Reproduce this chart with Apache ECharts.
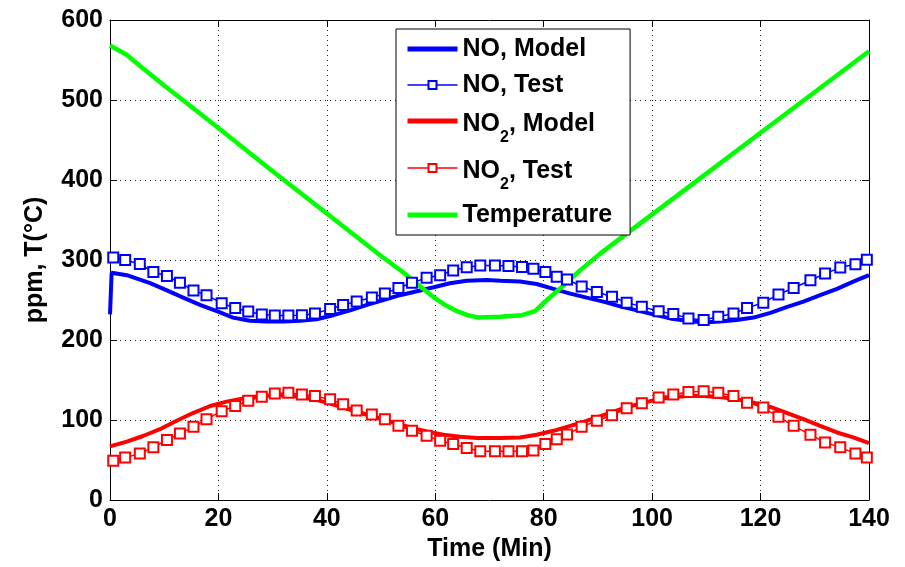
<!DOCTYPE html>
<html>
<head>
<meta charset="utf-8">
<script src="https://cdn.jsdelivr.net/npm/echarts@6/dist/echarts.min.js"></script>
<style>
html,body{margin:0;padding:0;background:#fff;}
#c{width:905px;height:567px;}
</style>
</head>
<body>
<div id="c"></div>
<script>
// ---- data ----
var seriesNames = ['NO, Model', 'NO, Test', 'NO2, Model', 'NO2, Test', 'Temperature'];
var xTicks = [0, 20, 40, 60, 80, 100, 120, 140];
var yTicks = [0, 100, 200, 300, 400, 500, 600];

var noModelTime = [0, 0.3, 3.1, 7.4, 10.5, 13.5, 16.6, 19.7, 22.7, 25.8, 28.9, 32.0, 35.1, 38.1, 41.2, 44.3, 47.4, 50.4, 53.5, 56.6, 59.7, 62.7, 65.8, 69.5, 72.0, 75.6, 78.7, 81.8, 84.9, 87.9, 91.0, 94.1, 97.2, 100.2, 103.3, 106.4, 109.5, 112.5, 115.6, 118.7, 121.8, 124.8, 127.9, 131.0, 134.1, 137.1, 140];
var noModel = [232, 284, 281, 271, 262, 253, 244, 236, 228, 224, 223, 223, 224, 226, 231, 237, 244, 250, 256, 261, 266, 271, 274, 275, 274, 273, 270, 264, 258, 253, 248, 242, 237, 232, 227, 224, 222, 223, 225, 228, 234, 241, 248, 256, 264, 273, 281];

var testTime = [0.6, 2.8, 5.5, 8.0, 10.5, 12.9, 15.4, 17.8, 20.6, 23.1, 25.5, 28.0, 30.4, 32.9, 35.4, 37.8, 40.6, 43.0, 45.5, 48.3, 50.7, 53.2, 55.7, 58.4, 60.9, 63.3, 65.8, 68.3, 71.0, 73.5, 76.0, 78.1, 80.3, 82.4, 84.3, 87.0, 89.8, 92.6, 95.3, 98.1, 101.2, 103.9, 106.7, 109.5, 112.2, 115.0, 117.5, 120.5, 123.3, 126.1, 129.2, 131.9, 134.7, 137.5, 139.6];
var noTest = [303, 300, 295, 285, 280, 271.5, 262, 256, 246, 240, 235.5, 232, 230.5, 230.5, 231, 233, 238.7, 243.7, 248, 253, 258, 265, 271.5, 277.7, 281, 287, 291, 293, 293, 292.6, 291.4, 289, 285, 279, 275.6, 267, 260, 254, 246.7, 241.7, 236, 232.5, 227, 225, 229, 233, 240, 246.7, 257, 265, 274.7, 283, 290.5, 294.6, 300.4];
var no2Test = [49, 53, 58, 66, 75, 83, 91.5, 101, 111, 117.5, 124, 129, 133, 134, 132, 130, 125.8, 119.6, 112, 107, 101, 92.7, 86.5, 80.3, 74, 70, 65, 61, 61, 61, 61, 62, 70, 76, 82, 91.5, 99, 106, 114.6, 120.8, 128, 132, 135, 136, 134, 130, 121.7, 115.5, 104, 92.7, 81.5, 72, 65.8, 58, 53];

var no2ModelTime = [0, 3.1, 6.1, 9.2, 12.3, 15.4, 18.5, 21.5, 24.6, 27.7, 30.8, 33.8, 36.9, 40.0, 43.0, 46.1, 49.2, 52.3, 55.4, 58.4, 61.5, 64.6, 67.7, 72.0, 75.6, 78.7, 81.8, 84.9, 87.9, 91.0, 94.1, 97.2, 100.2, 103.3, 106.4, 109.5, 112.5, 115.6, 118.7, 121.8, 124.8, 127.9, 131.0, 134.1, 137.1, 140];
var no2Model = [67, 73, 80, 88.5, 99, 109, 117.5, 123, 127, 130, 131, 130, 127, 121.7, 115.5, 109, 103, 96.8, 90.6, 85.7, 81.5, 79, 77.4, 77.4, 78.2, 81.5, 86.5, 92.7, 99, 106, 113.3, 119.6, 124.5, 128, 130, 130, 128.7, 125.8, 121.7, 116.3, 109, 101, 92.7, 84.4, 78.2, 71];

var tempTime = [0, 3, 6, 10, 20, 30, 40, 50, 54, 57, 60, 62, 64, 66, 68, 72, 76, 78.4, 80.6, 84.3, 86.7, 90.4, 100, 110, 120, 130, 140];
var temp = [568, 557, 540, 518, 465, 411, 358, 305, 285, 268, 252, 243, 236, 231, 228, 229, 231, 236, 250, 272, 287, 308, 357, 408, 459, 510, 561];

// ---- build ----
function pairs(xs, ys) { return xs.map(function (x, i) { return [x, ys[i]]; }); }
var FONT = 'Liberation Sans';
var BLUE = '#0000ff', RED = '#ff0000', GREEN = '#00ff00';

var chart = echarts.init(document.getElementById('c'), null, { renderer: 'canvas' });

var legendLabels = {
  'NO, Model': 'NO, Model',
  'NO, Test': 'NO, Test',
  'NO2, Model': '{n|NO}{s|2}{n|, Model}',
  'NO2, Test': '{n|NO}{s|2}{n|, Test}',
  'Temperature': 'Temperature'
};
var isModelLine = { 'NO, Model': true, 'NO2, Model': true, 'Temperature': true };

var axisCommon = {
  type: 'value',
  axisLine: { show: true, onZero: false, lineStyle: { color: '#000', width: 1 } },
  axisTick: { show: true, inside: true, length: 7, lineStyle: { color: '#000' } },
  splitLine: { show: false },
  nameTextStyle: { fontFamily: FONT, fontWeight: 'bold', fontSize: 25, color: '#000' }
};
var gridLine = { show: true, lineStyle: { color: '#222', width: 1, type: [1, 4] } };

chart.setOption({
  animation: false,
  backgroundColor: '#fff',
  grid: { left: 110, right: 36, top: 20, bottom: 64, containLabel: false },
  xAxis: [
    Object.assign({}, axisCommon, {
      min: xTicks[0], max: xTicks[xTicks.length - 1], interval: xTicks[1] - xTicks[0],
      position: 'bottom',
      name: 'Time (Min)', nameLocation: 'middle', nameGap: 37,
      axisLabel: { show: true, margin: 7, fontFamily: FONT, fontWeight: 'bold', fontSize: 25, color: '#000' },
      splitLine: gridLine
    }),
    Object.assign({}, axisCommon, {
      min: xTicks[0], max: xTicks[xTicks.length - 1], interval: xTicks[1] - xTicks[0],
      position: 'top', axisLabel: { show: false }
    })
  ],
  yAxis: [
    Object.assign({}, axisCommon, {
      min: yTicks[0], max: yTicks[yTicks.length - 1], interval: yTicks[1] - yTicks[0],
      position: 'left',
      name: 'ppm, T(°C)', nameLocation: 'middle', nameGap: 62, nameRotate: 90,
      axisLabel: { show: true, margin: 7, fontFamily: FONT, fontWeight: 'bold', fontSize: 25, color: '#000' },
      splitLine: gridLine
    }),
    Object.assign({}, axisCommon, {
      min: yTicks[0], max: yTicks[yTicks.length - 1], interval: yTicks[1] - yTicks[0],
      position: 'right', axisLabel: { show: false }
    })
  ],
  legend: {
    orient: 'vertical',
    left: 396, top: 29,
    padding: [6, 18, 6, 9],
    itemGap: 8,
    itemWidth: 50, itemHeight: 10,
    backgroundColor: '#fff', borderColor: '#000', borderWidth: 1, borderRadius: 0,
    data: seriesNames.map(function (n) {
      return isModelLine[n]
        ? { name: n, itemStyle: { opacity: 0 }, lineStyle: { width: 5 } }
        : { name: n, lineStyle: { width: 1.5 } };
    }),
    formatter: function (name) { return legendLabels[name]; },
    textStyle: {
      fontFamily: FONT, fontWeight: 'bold', fontSize: 25, color: '#000', lineHeight: 28,
      rich: {
        n: { fontFamily: FONT, fontWeight: 'bold', fontSize: 25, color: '#000', lineHeight: 28, padding: [5, 0, 5, 0], verticalAlign: 'top' },
        s: { fontFamily: FONT, fontWeight: 'bold', fontSize: 16, color: '#000', lineHeight: 18, padding: [23, 0, 0, 0], verticalAlign: 'top' }
      }
    }
  },
  series: [
    { name: seriesNames[0], type: 'line', data: pairs(noModelTime, noModel), showSymbol: false, symbol: 'none',
      lineStyle: { color: BLUE, width: 4 }, itemStyle: { color: BLUE } },
    { name: seriesNames[1], type: 'line', data: pairs(testTime, noTest), symbol: 'emptyRect', symbolSize: 10, showAllSymbol: true,
      lineStyle: { color: BLUE, width: 1.5 }, itemStyle: { color: BLUE, borderColor: BLUE, borderWidth: 1.8 } },
    { name: seriesNames[2], type: 'line', data: pairs(no2ModelTime, no2Model), showSymbol: false, symbol: 'none',
      lineStyle: { color: RED, width: 4 }, itemStyle: { color: RED } },
    { name: seriesNames[3], type: 'line', data: pairs(testTime, no2Test), symbol: 'emptyRect', symbolSize: 10, showAllSymbol: true,
      lineStyle: { color: RED, width: 1.5 }, itemStyle: { color: RED, borderColor: RED, borderWidth: 1.8 } },
    { name: seriesNames[4], type: 'line', data: pairs(tempTime, temp), showSymbol: false, symbol: 'none',
      lineStyle: { color: GREEN, width: 4.5 }, itemStyle: { color: GREEN } }
  ]
});
</script>
</body>
</html>
